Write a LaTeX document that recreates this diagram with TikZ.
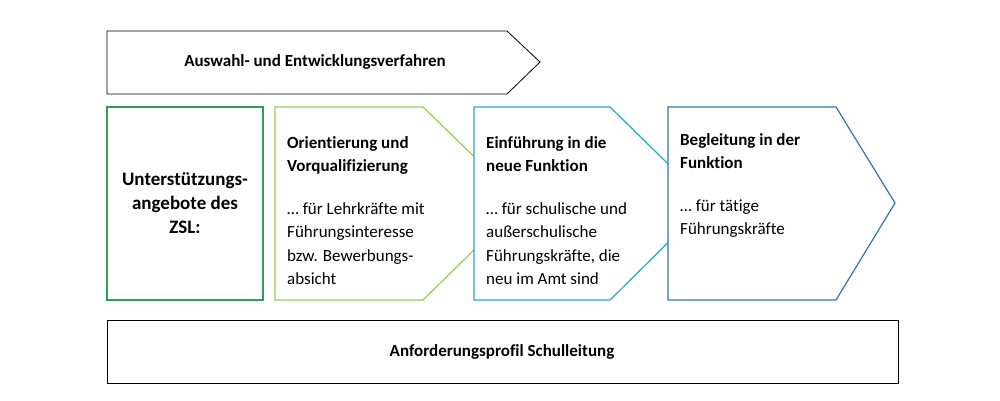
\documentclass[tikz,border=0pt]{standalone}
\usepackage{fontspec}
\setmainfont[Ligatures={NoCommon}]{Carlito}
\definecolor{zslgreen}{HTML}{2E9E5B}
\definecolor{lightgreen}{HTML}{92D050}
\definecolor{lightblue}{HTML}{1FA8DF}
\definecolor{darkblue}{HTML}{2E75B6}
\tikzset{
  phase/.style={fill=white,line width=1.2pt,line join=miter},
  txt/.style={anchor=north west,align=left,inner sep=0pt,font=\fontsize{17bp}{23.5bp}\selectfont},
}
\begin{document}
\begin{tikzpicture}[x=1bp,y=-1bp]
\useasboundingbox (0,0) rectangle (1000,400);
%% top arrow
\draw [phase,line width=0.8pt] (107,31) -- (507,31) -- (540,62) -- (507,94) -- (107,94) -- cycle;
\node (verfahren) at (315,62) [font=\bfseries\fontsize{17bp}{20bp}\selectfont] {Auswahl- und Entwicklungsverfahren};
%% phases
\draw [phase,draw=zslgreen] (107,107) rectangle (263,300);
\draw [phase,draw=lightgreen] (275,107) -- (423,107) -- (522,203) -- (423,300) -- (275,300) -- cycle;
\draw [phase,draw=lightblue] (474,107) -- (610,107) -- (708,203) -- (610,300) -- (474,300) -- cycle;
\draw [phase,draw=darkblue] (668,107) -- (836,107) -- (895,203) -- (836,300) -- (668,300) -- cycle;
\node (zsl) at (185,203) [align=center,font=\bfseries\fontsize{19bp}{24bp}\selectfont] {Unterstützungs-\\angebote des\\ZSL:};
\node (orient) at (287,136) [txt] {\textbf{Orientierung und}\\\textbf{Vorqualifizierung}\\[19bp]… für Lehrkräfte mit\\Führungsinteresse\\bzw. Bewerbungs-\\absicht};
\node (einf) at (486,136) [txt] {\textbf{Einführung in die}\\\textbf{neue Funktion}\\[19bp]… für schulische und\\außerschulische\\Führungskräfte, die\\neu im Amt sind};
\node (begl) at (680,133) [txt] {\textbf{Begleitung in der}\\\textbf{Funktion}\\[19bp]… für tätige\\Führungskräfte};
%% bottom
\draw [phase,line width=0.8pt] (107,320) rectangle (898,383);
\node (profil) at (502,352) [font=\bfseries\fontsize{17bp}{20bp}\selectfont] {Anforderungsprofil Schulleitung};
\end{tikzpicture}
\end{document}
